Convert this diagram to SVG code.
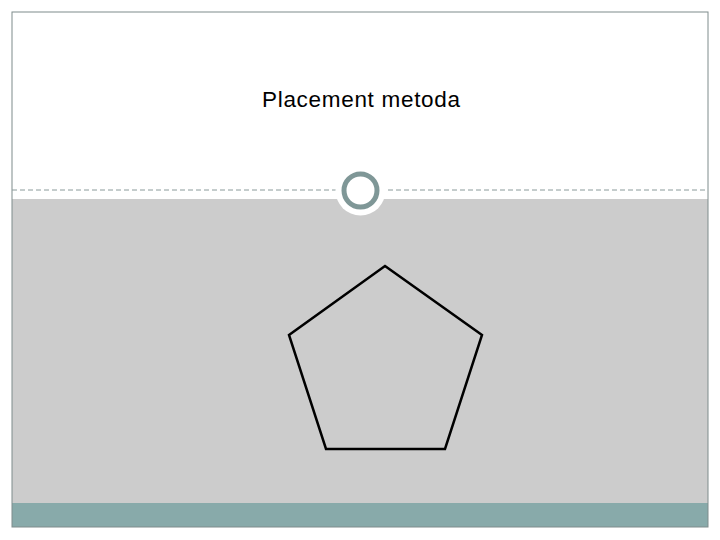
<svg xmlns="http://www.w3.org/2000/svg" width="720" height="540" viewBox="0 0 720 540">
<style>
.title{font-family:"Liberation Sans",Arial,sans-serif;font-size:22.5px;fill:#000}
</style>
<rect x="0" y="0" width="720" height="540" fill="#ffffff"/>
<g id="background">
<rect x="12" y="199" width="696" height="304" fill="#cccccc"/>
<rect x="12" y="503" width="696" height="24" fill="#88aaaa"/>
<rect x="12" y="12" width="696" height="515" fill="none" stroke="#7f8c8c" stroke-width="1"/>
<line x1="12" y1="190" x2="708" y2="190" stroke="#8a9a9a" stroke-width="1" stroke-dasharray="5,3"/>
<circle cx="360.5" cy="190.5" r="25" fill="#ffffff"/>
<circle cx="360.5" cy="190.5" r="16.5" fill="#ffffff" stroke="#7f9797" stroke-width="5"/>
</g>
<g id="title"><text class="title" x="262" y="107" textLength="198" lengthAdjust="spacing">Placement metoda</text></g>
<g id="pentagon">
<polygon points="385,266 482,335 445,449 326,449 289,335" fill="none" stroke="#000" stroke-width="2.5" stroke-linejoin="miter"/>
</g>
</svg>
